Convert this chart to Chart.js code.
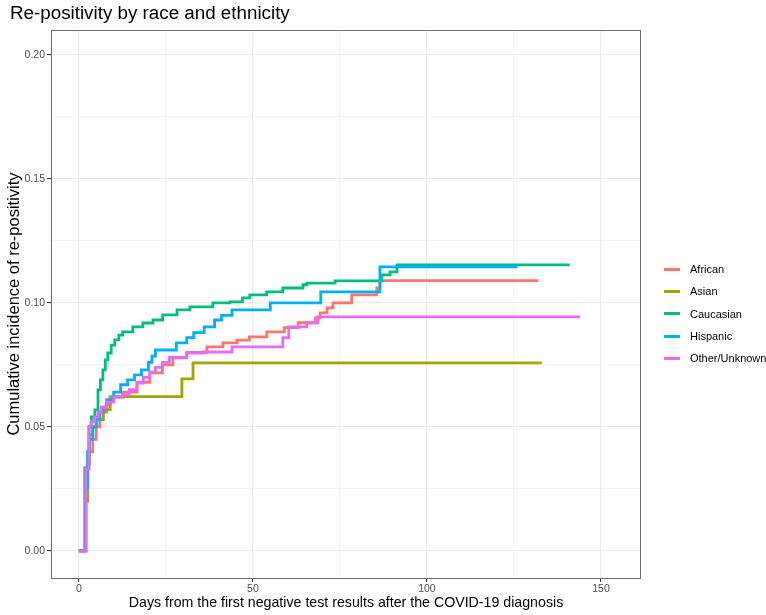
<!DOCTYPE html>
<html>
<head>
<meta charset="utf-8">
<script src="https://cdn.jsdelivr.net/npm/chart.js@4.4.1/dist/chart.umd.min.js"></script>
<style>
    body { margin: 0; background: #fff; font-family: 'Liberation Sans', Arial, sans-serif; }
    #wrap { position: relative; width: 766px; height: 615px; }
    #title { position: absolute; left: 10px; top: 2px; font-size: 18.8px; color: #000; }
    #legend { position: absolute; left: 664px; top: 258px; font-size: 11px; color: #000; }
    .leg-item { height: 22.3px; display: flex; align-items: center; }
    .leg-line { width: 16px; height: 3px; margin-right: 10px; }
</style>
</head>
<body>
<div id="wrap">
    <canvas id="kmChart" width="766" height="615"></canvas>
    <div id="title">Re-positivity by race and ethnicity</div>
    <div id="legend"></div>
</div>
<script>
// Groups and colours (ggplot default hue palette)
const groups = ['African', 'Asian', 'Caucasian', 'Hispanic', 'Other/Unknown'];
const colors = ['#F8766D', '#A3A500', '#00BF7D', '#00B0F6', '#E76BF3'];

// Step points: day when the cumulative incidence jumps, and the new level
const africanDays = [0, 2, 2.5, 3, 4, 5, 6, 7, 8, 9, 12.6, 16.7, 20.4, 24, 27, 31, 36.8, 41.4, 45.4, 49, 54, 59, 63, 68, 69.3, 71.3, 73, 78.4, 85.6, 86.5, 132];
const africanInc  = [0, 0.02, 0.035, 0.04, 0.045, 0.05, 0.053, 0.056, 0.059, 0.062, 0.064, 0.068, 0.0718, 0.075, 0.0778, 0.08, 0.0823, 0.0839, 0.085, 0.0863, 0.0883, 0.09, 0.092, 0.094, 0.096, 0.098, 0.1, 0.1032, 0.106, 0.109, 0.109];

const asianDays = [0, 2, 2.5, 3, 4, 5, 7, 9, 29.6, 32.8, 133];
const asianInc  = [0, 0.02, 0.035, 0.047, 0.05, 0.053, 0.057, 0.0622, 0.0694, 0.0758, 0.0758];

const caucasianDays = [0, 1.7, 2.9, 3.6, 4.6, 5.5, 6.2, 6.9, 7.6, 8.3, 9.3, 10.3, 11.5, 12.6, 15.5, 18.4, 21.3, 24.1, 28.2, 31.9, 38.5, 43.4, 47, 49.1, 54, 58.6, 64.4, 65.5, 73.6, 87, 89.4, 91.4, 141];
const caucasianInc  = [0, 0.0335, 0.05, 0.054, 0.0569, 0.0649, 0.069, 0.073, 0.077, 0.0798, 0.083, 0.0851, 0.087, 0.0883, 0.0903, 0.0919, 0.0931, 0.0952, 0.0972, 0.0984, 0.1, 0.1004, 0.102, 0.1032, 0.1044, 0.106, 0.1073, 0.108, 0.1089, 0.1113, 0.1125, 0.1153, 0.1153];

const hispanicDays = [0, 2, 2.5, 3, 4, 5, 6, 7, 8, 10, 12, 14, 16, 18, 20, 21, 22, 28, 31, 33, 36, 39, 41, 44, 55, 69.5, 86.5, 126];
const hispanicInc  = [0, 0.025, 0.04, 0.045, 0.05, 0.053, 0.056, 0.058, 0.061, 0.064, 0.067, 0.069, 0.071, 0.073, 0.076, 0.0785, 0.081, 0.0839, 0.086, 0.088, 0.0903, 0.0931, 0.095, 0.0972, 0.1, 0.1044, 0.1145, 0.1145];

const otherDays = [0, 2, 2.9, 3.5, 4.5, 5.5, 6.5, 8, 10, 12.6, 14.5, 16.7, 18.5, 20.4, 22, 24, 26, 31, 35.6, 44, 58.6, 60.3, 65.5, 68.7, 144];
const otherInc  = [0, 0.033, 0.05, 0.052, 0.054, 0.056, 0.058, 0.06, 0.062, 0.063, 0.065, 0.0677, 0.07, 0.0722, 0.074, 0.076, 0.078, 0.0798, 0.0802, 0.0823, 0.086, 0.0903, 0.092, 0.0944, 0.0944];

const seriesDays = [africanDays, asianDays, caucasianDays, hispanicDays, otherDays];
const seriesInc = [africanInc, asianInc, caucasianInc, hispanicInc, otherInc];

// Axis ticks
const xTicks = [0, 50, 100, 150];
const yTicks = [0, 0.05, 0.10, 0.15, 0.20];

const gridColor = '#ebebeb';
const tickText = '#4d4d4d';
const baseFont = "'Liberation Sans', Arial, sans-serif";

function isMajor(list, v) {
    return list.some(t => Math.abs(t - v) < 1e-6);
}

// Build datasets; later groups drawn on top like ggplot
const datasets = groups.map((name, i) => ({
    label: name,
    data: seriesDays[i].map((d, k) => ({ x: d, y: seriesInc[i][k] })),
    borderColor: colors[i],
    backgroundColor: colors[i],
    borderWidth: 2.8,
    stepped: true,
    pointRadius: 0,
    fill: false,
    order: groups.length - i
}));

// Panel border around the plot area
const panelBorder = {
    id: 'panelBorder',
    afterDraw(chart) {
        const a = chart.chartArea;
        const c = chart.ctx;
        c.save();
        c.strokeStyle = '#6e6e6e';
        c.lineWidth = 1;
        c.strokeRect(a.left + 0.5, a.top + 0.5, a.right - a.left - 1, a.bottom - a.top);
        c.restore();
    }
};

new Chart(document.getElementById('kmChart'), {
    type: 'line',
    data: { datasets: datasets },
    options: {
        responsive: false,
        animation: false,
        layout: { padding: { left: 0, right: 125, top: 30, bottom: 0 } },
        plugins: {
            legend: { display: false },
            tooltip: { enabled: false }
        },
        scales: {
            x: {
                type: 'linear',
                min: -8,
                max: 161.5,
                afterBuildTicks(scale) {
                    scale.ticks = [0, 25, 50, 75, 100, 125, 150].map(v => ({ value: v }));
                },
                afterFit(scale) { scale.height = 37; },
                grid: {
                    color: gridColor,
                    lineWidth: ctx => isMajor(xTicks, ctx.tick.value) ? 1.1 : 0.6,
                    tickLength: 4,
                    tickColor: ctx => isMajor(xTicks, ctx.tick.value) ? '#333' : 'rgba(0,0,0,0)'
                },
                border: { display: false },
                ticks: {
                    autoSkip: false,
                    maxRotation: 0,
                    padding: 1,
                    color: tickText,
                    font: { family: baseFont, size: 10.5 },
                    callback: v => isMajor(xTicks, v) ? String(v) : ''
                },
                title: {
                    display: true,
                    text: 'Days from the first negative test results after the COVID-19 diagnosis',
                    color: '#000',
                    font: { family: baseFont, size: 14.2 },
                    padding: { top: 2, bottom: 3 }
                }
            },
            y: {
                type: 'linear',
                min: -0.0109,
                max: 0.21,
                afterBuildTicks(scale) {
                    scale.ticks = [0, 0.025, 0.05, 0.075, 0.1, 0.125, 0.15, 0.175, 0.2].map(v => ({ value: v }));
                },
                afterFit(scale) { scale.width = 51; },
                grid: {
                    color: gridColor,
                    lineWidth: ctx => isMajor(yTicks, ctx.tick.value) ? 1.1 : 0.6,
                    tickLength: 4,
                    tickColor: ctx => isMajor(yTicks, ctx.tick.value) ? '#333' : 'rgba(0,0,0,0)'
                },
                border: { display: false },
                ticks: {
                    autoSkip: false,
                    padding: 2,
                    color: tickText,
                    font: { family: baseFont, size: 10.5 },
                    callback: v => isMajor(yTicks, v) ? v.toFixed(2) : ''
                },
                title: {
                    display: true,
                    text: 'Cumulative incidence of re-positivity',
                    color: '#000',
                    font: { family: baseFont, size: 16.5 },
                    padding: { top: 5, bottom: 0 }
                }
            }
        }
    },
    plugins: [panelBorder]
});

// Legend
const legendBox = document.getElementById('legend');
legendBox.innerHTML = groups.map((name, i) => `
    <div class="leg-item">
        <span class="leg-line" style="background:${colors[i]}"></span>
        <span>${name}</span>
    </div>
`).join('');
</script>
</body>
</html>
